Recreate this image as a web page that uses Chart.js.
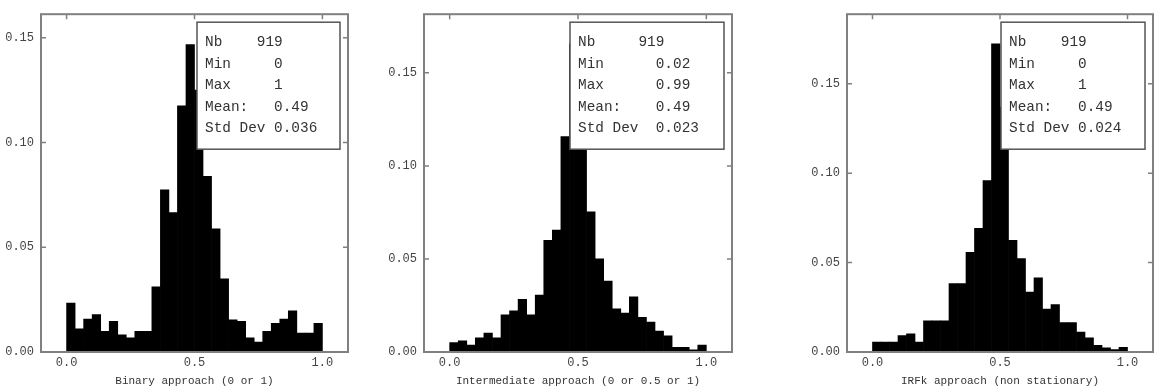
<!DOCTYPE html>
<html>
<head>
<meta charset="utf-8">
<script src="https://cdn.jsdelivr.net/npm/chart.js@4"></script>
<style>
  body { margin: 0; background: #fff; }
  .panel { position: absolute; top: 0; }
</style>
</head>
<body>
<div class="panel" style="left:0px"><canvas id="c1" width="356" height="392"></canvas></div>
<div class="panel" style="left:380px"><canvas id="c2" width="356" height="392"></canvas></div>
<div class="panel" style="left:800px"><canvas id="c3" width="363" height="392"></canvas></div>
<script>
// 30 classes entre 0 et 1, frequences
const binCount = 30;
const xTicks = [0, 0.5, 1.0];
const yTicks = [0, 0.05, 0.10, 0.15];

const binaryFreq = [0.0233, 0.011, 0.0157, 0.0178, 0.0099, 0.0146, 0.0082, 0.0068, 0.0099, 0.0099,
  0.0311, 0.0774, 0.0665, 0.1175, 0.1467, 0.125, 0.0838, 0.0588, 0.0349, 0.0154,
  0.0146, 0.0068, 0.0047, 0.0099, 0.0137, 0.0157, 0.0197, 0.009, 0.009, 0.0137];
const intermediateFreq = [0.005, 0.006, 0.0037, 0.0076, 0.0101, 0.0076, 0.02, 0.0221, 0.0283, 0.02,
  0.0306, 0.06, 0.0655, 0.1157, 0.1656, 0.13, 0.0753, 0.0501, 0.0381, 0.0232,
  0.0209, 0.0296, 0.0186, 0.0161, 0.0112, 0.0087, 0.0025, 0.0025, 0.0012, 0.0037];
const irfkFreq = [0.0055, 0.0055, 0.0055, 0.0092, 0.0101, 0.0055, 0.0175, 0.0175, 0.0175, 0.0383,
  0.0383, 0.0558, 0.0691, 0.0958, 0.1723, 0.137, 0.0625, 0.0523, 0.0335, 0.0415,
  0.024, 0.0265, 0.0164, 0.0164, 0.0111, 0.0079, 0.0037, 0.0024, 0.0013, 0.0026];

const titles = ['Binary approach (0 or 1)', 'Intermediate approach (0 or 0.5 or 1)', 'IRFk approach (non stationary)'];
const yMax = [0.1612, 0.1815, 0.1889];

const statsBinary = ['Nb    919', 'Min     0', 'Max     1', 'Mean:   0.49', 'Std Dev 0.036'];
const statsIntermediate = ['Nb     919', 'Min      0.02', 'Max      0.99', 'Mean:    0.49', 'Std Dev  0.023'];
const statsIrfk = ['Nb    919', 'Min     0', 'Max     1', 'Mean:   0.49', 'Std Dev 0.024'];

const MONO = '"Liberation Mono", "DejaVu Sans Mono", monospace';

// cadre gris, petites graduations vers l'interieur et encadre de stats
const framePlugin = {
  id: 'frame',
  afterDraw(chart, args, opts) {
    const { ctx, chartArea: a, scales } = chart;
    ctx.save();
    ctx.strokeStyle = '#808080';
    ctx.lineWidth = 2;
    ctx.strokeRect(a.left, a.top, a.right - a.left, a.bottom - a.top);
    ctx.lineWidth = 1.5;
    ctx.beginPath();
    xTicks.forEach(v => {
      const px = scales.x.getPixelForValue(v);
      ctx.moveTo(px, a.top); ctx.lineTo(px, a.top + 5);
    });
    yTicks.forEach(v => {
      const py = scales.y.getPixelForValue(v);
      ctx.moveTo(a.left, py); ctx.lineTo(a.left + 5, py);
      ctx.moveTo(a.right, py); ctx.lineTo(a.right - 5, py);
    });
    ctx.stroke();

    // boite de statistiques
    const bw = opts.boxWidth, bh = 127;
    const bx = a.right - 8 - bw, by = a.top + 8;
    ctx.fillStyle = '#fff';
    ctx.fillRect(bx, by, bw, bh);
    ctx.strokeStyle = '#555';
    ctx.lineWidth = 1.5;
    ctx.strokeRect(bx, by, bw, bh);
    ctx.fillStyle = '#333';
    ctx.font = '14.4px ' + MONO;
    ctx.textBaseline = 'middle';
    opts.lines.forEach((line, i) => {
      ctx.fillText(line, bx + 8, by + 20 + i * 21.5);
    });
    ctx.restore();
  }
};

function makeChart(id, freq, title, max, stats, yWidth, padRight, boxWidth) {
  const data = freq.map((f, i) => ({ x: (i + 0.5) / binCount, y: f }));
  return new Chart(document.getElementById(id), {
    type: 'bar',
    data: { datasets: [{ data: data, backgroundColor: '#000', borderWidth: 0,
      barPercentage: 1, categoryPercentage: 1 }] },
    options: {
      responsive: false,
      animation: false,
      events: [],
      layout: { padding: { top: 10, right: padRight, left: 0, bottom: 0 } },
      plugins: { legend: { display: false }, tooltip: { enabled: false },
        frame: { lines: stats, boxWidth: boxWidth } },
      scales: {
        x: {
          type: 'linear', min: -0.1, max: 1.1, offset: false,
          afterBuildTicks: s => { s.ticks = xTicks.map(v => ({ value: v })); },
          afterFit: s => { s.height = 40; },
          grid: { display: false, drawTicks: false },
          border: { display: false },
          ticks: { padding: 4, color: '#444', font: { family: MONO, size: 12 },
            callback: v => v.toFixed(1) },
          title: { display: true, text: title, color: '#333', padding: { top: 0, bottom: 4 },
            font: { family: MONO, size: 11 } }
        },
        y: {
          min: 0, max: max,
          afterBuildTicks: s => { s.ticks = yTicks.map(v => ({ value: v })); },
          afterFit: s => { s.width = yWidth; },
          grid: { display: false, drawTicks: false },
          border: { display: false },
          ticks: { padding: 7, color: '#444', font: { family: MONO, size: 12 },
            callback: v => v.toFixed(2) }
        }
      }
    },
    plugins: [framePlugin]
  });
}

makeChart('c1', binaryFreq, titles[0], yMax[0], statsBinary, 41, 8, 143);
makeChart('c2', intermediateFreq, titles[1], yMax[1], statsIntermediate, 44, 4, 154);
makeChart('c3', irfkFreq, titles[2], yMax[2], statsIrfk, 47, 10, 144);
</script>
</body>
</html>
